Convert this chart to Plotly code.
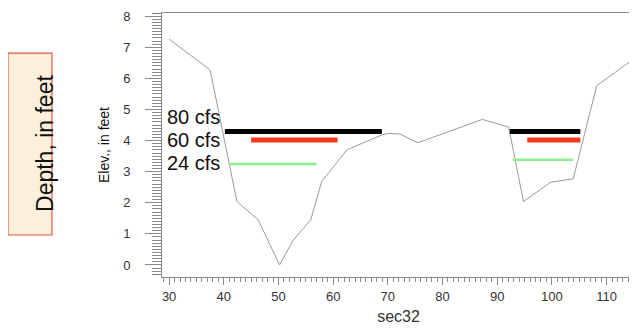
import plotly.graph_objects as go

# Cross-section profile (station, elevation)
station = [30, 37.5, 42.4, 46.3, 50.2, 52.7, 55.9, 57.9, 62.5, 68.9, 70.1,
           72.2, 75.5, 87.3, 92.1, 94.8, 99.8, 103.9, 108.2, 114.3, 114.9]
elev = [7.26, 6.27, 2.04, 1.45, 0.0, 0.8, 1.45, 2.68, 3.7, 4.18, 4.23,
        4.21, 3.93, 4.68, 4.43, 2.04, 2.66, 2.77, 5.76, 6.54, 6.77]

# Water surface for each flow: left channel and right channel segments
flow_labels = ["80 cfs", "60 cfs", "24 cfs"]
label_elev = [4.77, 4.02, 3.27]
left_start = [40.2, 45.0, 41.0]
left_end = [68.9, 60.8, 57.0]
left_level = [4.29, 4.02, 3.25]
right_start = [92.3, 95.5, 92.9]
right_end = [105.2, 105.2, 103.9]
right_level = [4.29, 4.02, 3.38]

colors = ["#000000", "#f43a1c", "#8fef8f"]
widths = [5, 5, 2.5]

fig = go.Figure()

fig.add_trace(go.Scatter(x=station, y=elev, mode="lines",
                         line=dict(color="#9a9a9a", width=1), showlegend=False))

for i in range(len(flow_labels)):
    for xs, xe, lv in [(left_start[i], left_end[i], left_level[i]),
                       (right_start[i], right_end[i], right_level[i])]:
        fig.add_trace(go.Scatter(x=[xs, xe], y=[lv, lv], mode="lines",
                                 line=dict(color=colors[i], width=widths[i]),
                                 showlegend=False))
    fig.add_annotation(x=29.3, y=label_elev[i], text=flow_labels[i],
                       showarrow=False, xanchor="left", yanchor="middle",
                       font=dict(size=20, color="#111111"))

# "Depth, in feet" callout box on the left
fig.add_shape(type="rect", xref="paper", yref="paper",
              x0=-0.3256, x1=-0.2326, y0=0.159, y1=0.848,
              fillcolor="#fbf0dc", line=dict(color="#e8553f", width=1.2))
fig.add_annotation(xref="paper", yref="paper", x=-0.279, y=0.504,
                   text="Depth, in feet", showarrow=False, textangle=-90,
                   font=dict(size=23, color="#111111"))

# the page body adds an 8px offset, so the figure is 8px smaller
fig.update_layout(
    width=629, height=322,
    margin=dict(l=154, r=2, t=5, b=53),
    paper_bgcolor="white", plot_bgcolor="white",
    font=dict(family="Arial, Liberation Sans, sans-serif"),
)
fig.update_xaxes(range=[28.7, 115.2], dtick=10, ticks="outside", ticklen=7,
                 showline=True, mirror=True, linecolor="#8a8a8a", tickcolor="#8a8a8a",
                 showgrid=False, zeroline=False, automargin=False,
                 tickfont=dict(size=13, color="#333333"),
                 minor=dict(dtick=1, ticks="outside", ticklen=4, tickcolor="#8a8a8a"),
                 title=dict(text="sec32", font=dict(size=16, color="#333333"), standoff=8))
fig.update_yaxes(range=[-0.386, 8.1], dtick=1, ticks="outside", ticklen=16,
                 ticklabelstandoff=12,
                 showline=True, mirror=True, linecolor="#8a8a8a", tickcolor="#8a8a8a",
                 showgrid=False, zeroline=False, automargin=False,
                 tickfont=dict(size=13, color="#333333"),
                 minor=dict(dtick=0.1, ticks="outside", ticklen=9, tickcolor="#8a8a8a"),
                 title=dict(text="Elev., in feet", font=dict(size=14, color="#111111"), standoff=10))

fig.write_html("out.html")
